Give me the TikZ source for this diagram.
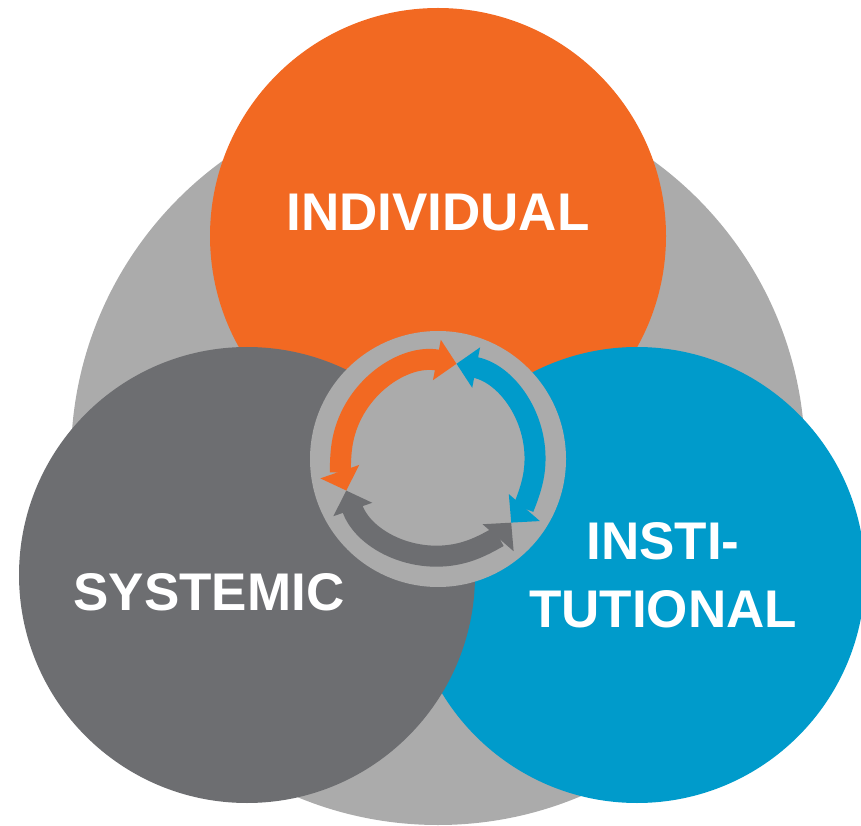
\documentclass[tikz,border=0pt]{standalone}
\usepackage{fontspec}
\setmainfont{Liberation Sans}
\usetikzlibrary{arrows.meta}
\definecolor{bgGray}{HTML}{ABABAB}
\definecolor{indOrange}{HTML}{F26922}
\definecolor{instBlue}{HTML}{009BCB}
\definecolor{sysGray}{HTML}{6D6E71}
\definecolor{shadeGray}{HTML}{8E8E8E}
\pgfdeclareradialshading{hubshade}{\pgfpoint{0bp}{0bp}}{color(0bp)=(bgGray); color(44bp)=(bgGray); color(50bp)=(shadeGray)}

\begin{document}
\begin{tikzpicture}[x=1pt,y=1pt]
  \tikzstyle{disc} = [circle, inner sep=0pt, minimum size=456pt]
  \tikzstyle{word} = [text=white, font=\fontsize{53}{68}\selectfont\bfseries, inner sep=0pt]
  \tikzstyle{turn} = [line width=21pt, {Triangle[length=20pt,width=40pt]}-{Triangle[length=20pt,width=40pt]}]
  \useasboundingbox (0,0) rectangle (861,825);
  \node[circle, fill=bgGray, inner sep=0pt, minimum size=734pt] (big) at (438,367) {};
  \node[disc, fill=indOrange] (ind) at (438,589) {};
  \node[disc, fill=instBlue] (inst) at (637,250) {};
  \node[disc, fill=sysGray] (sys) at (247,250) {};
  \node[circle, fill=bgGray, inner sep=0pt, minimum size=256pt] (hub) at (438,366) {};
  \shade[shading=hubshade] (hub.center) circle (85);
  % labels
  \node[word, anchor=base] (tInd) at ([yshift=5pt]ind.center) {INDIVIDUAL};
  \node[word, anchor=base] (tSys) at ([shift={(-38,-35)}]sys.center) {SYSTEMIC};
  \node[word, align=center] (tInst) at ([xshift=26pt]inst.center) {INSTI-\\TUTIONAL};
  % cycle arrows
  \draw[turn, indOrange] ([shift={(79:97)}]hub.center) arc[start angle=79, end angle=199, radius=97];
  \draw[turn, instBlue] ([shift={(79:97)}]hub.center) arc[start angle=79, end angle=-41, radius=97];
  \draw[turn, sysGray] ([shift={(199:97)}]hub.center) arc[start angle=199, end angle=319, radius=97];
\end{tikzpicture}
\end{document}
